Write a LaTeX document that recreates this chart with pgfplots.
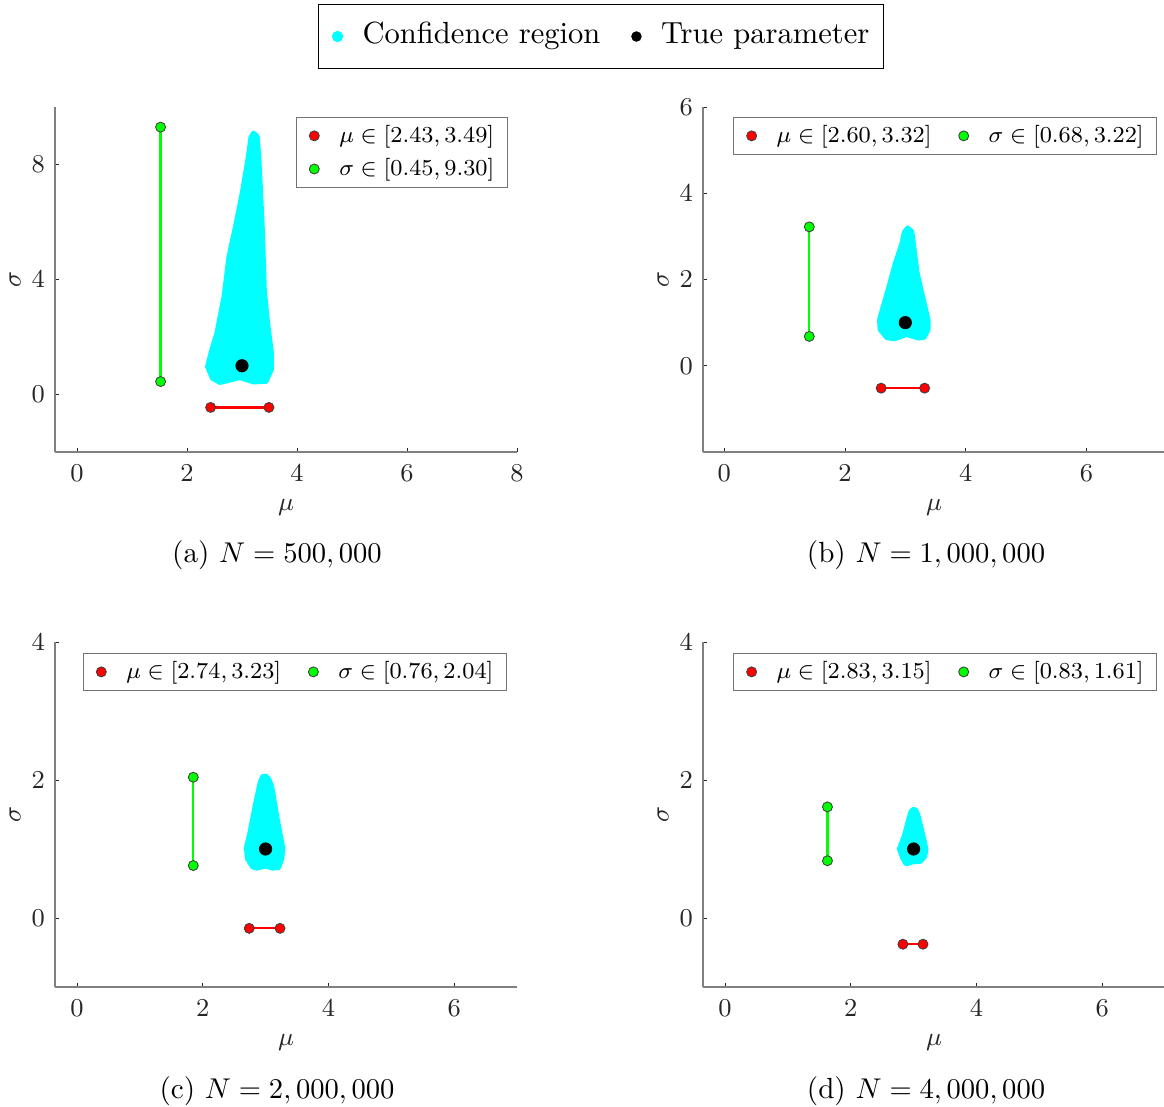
\documentclass[border=0pt]{standalone}
\usepackage{pgfplots}
\pgfplotsset{compat=1.18}
\definecolor{cy}{RGB}{0,255,255}
\definecolor{gr}{RGB}{0,255,0}
\definecolor{rd}{RGB}{255,0,0}
\definecolor{axgray}{RGB}{128,128,128}
\definecolor{txt}{RGB}{38,38,38}
\pgfplotsset{
  panel/.style={
    scale only axis, width=161.7pt, height=120.75pt, anchor=south west,
    axis x line*=bottom, axis y line*=left,
    axis line style={-, draw=axgray, line width=0.45pt},
    tick align=inside, major tick length=1.4pt,
    tick style={draw=txt, line width=0.3pt},
    xticklabel style={font=\fontsize{9.3}{11}\selectfont, text=txt, yshift=-1.0pt},
    yticklabel style={font=\fontsize{9.3}{11}\selectfont, text=txt},
    xlabel style={font=\fontsize{9.3}{11}\selectfont, text=txt, at={(axis description cs:0.5,-0.162)}, anchor=center},
    ylabel style={font=\fontsize{9.3}{11}\selectfont, text=txt, at={(axis description cs:-0.0866,0.5)}, anchor=center},
    xlabel={$\mu$}, ylabel={$\sigma$},
    enlargelimits=false,
    legend image code/.code={\draw[##1] plot coordinates {(0pt,0pt)};},
    legend style={draw=black!55, line width=0.4pt, fill=white, anchor=north east,
      inner xsep=4.5pt, inner ysep=1.8pt, row sep=2.4pt,
      font=\fontsize{8.5}{10}\selectfont,
      nodes={font=\fontsize{8.5}{10}\selectfont, inner sep=0pt, text height=0.7em, text depth=0.22em},
      /tikz/every odd column/.style={column sep=7pt},
      /tikz/every even column/.style={column sep=9.5pt}},
  },
  region/.style={forget plot, fill=cy, draw=cy, line width=1.6pt, line join=round},
  redseg/.style={forget plot, rd, line width=0.8pt, mark=*, mark size=1.75pt,
    mark options={fill=rd, draw=black!75, line width=0.3pt}},
  greenseg/.style={forget plot, gr, line width=0.8pt, mark=*, mark size=1.75pt,
    mark options={fill=gr, draw=black!75, line width=0.3pt}},
  truep/.style={forget plot, only marks, mark=*, mark size=2.1pt, black},
  redleg/.style={only marks, mark=*, mark size=1.75pt, mark options={fill=rd, draw=black!75, line width=0.3pt}},
  greenleg/.style={only marks, mark=*, mark size=1.75pt, mark options={fill=gr, draw=black!75, line width=0.3pt}},
}
\begin{document}
\begin{tikzpicture}
\useasboundingbox (0pt,0pt) rectangle (407.4pt,387.45pt);

% ---------- (a)
\begin{axis}[panel, at={(19.25pt,229.25pt)},
  xmin=-0.4, xmax=8, ymin=-2, ymax=10,
  xtick={0,2,4,6,8}, ytick={0,4,8},
  legend style={at={(0.980,0.971)}}]
\addplot[region] coordinates {(3.16,8.95) (3.21,9.10) (3.28,8.98) (3.31,8.25) (3.37,5.94) (3.41,3.63) (3.47,2.47) (3.54,1.43) (3.54,0.88) (3.44,0.45) (3.21,0.43) (2.96,0.58) (2.60,0.41) (2.46,0.56) (2.37,0.97) (2.43,1.43) (2.54,2.13) (2.67,3.40) (2.76,4.79) (2.89,5.94) (3.01,7.10) (3.11,8.25)} -- cycle;
\addplot[greenseg] coordinates {(1.52,0.45) (1.52,9.30)};
\addplot[redseg] coordinates {(2.43,-0.45) (3.49,-0.45)};
\addplot[truep] coordinates {(3,1)};
\addlegendimage{redleg}
\addlegendentry{$\mu \in [2.43, 3.49]$}
\addlegendimage{greenleg}
\addlegendentry{$\sigma \in [0.45, 9.30]$}
\end{axis}

% ---------- (b)
\begin{axis}[panel, at={(246.05pt,229.25pt)},
  xmin=-0.35, xmax=7.3, ymin=-2, ymax=6,
  xtick={0,2,4,6}, ytick={0,2,4,6},
  legend columns=2,
  legend style={at={(0.983,0.971)}}]
\addplot[region] coordinates {(2.98,3.10) (3.04,3.20) (3.11,3.11) (3.13,2.91) (3.20,2.14) (3.29,1.60) (3.38,1.06) (3.38,0.84) (3.31,0.65) (3.21,0.64) (3.02,0.72) (2.82,0.62) (2.69,0.65) (2.58,0.84) (2.57,1.06) (2.63,1.37) (2.71,1.75) (2.83,2.37) (2.94,2.83)} -- cycle;
\addplot[greenseg] coordinates {(1.41,0.68) (1.41,3.22)};
\addplot[redseg] coordinates {(2.60,-0.52) (3.32,-0.52)};
\addplot[truep] coordinates {(3,1)};
\addlegendimage{redleg}
\addlegendentry{$\mu \in [2.60, 3.32]$}
\addlegendimage{greenleg}
\addlegendentry{$\sigma \in [0.68, 3.22]$}
\end{axis}

% ---------- (c)
\begin{axis}[panel, at={(19.25pt,42pt)},
  xmin=-0.35, xmax=7, ymin=-1, ymax=4,
  xtick={0,2,4,6}, ytick={0,2,4},
  legend columns=2,
  legend style={at={(0.978,0.968)}}]
\addplot[region] coordinates {(2.95,2.05) (3.00,2.06) (3.05,2.02) (3.10,1.91) (3.19,1.43) (3.28,1.00) (3.26,0.86) (3.21,0.73) (3.11,0.72) (3.00,0.75) (2.86,0.72) (2.79,0.74) (2.71,0.86) (2.69,1.02) (2.75,1.24) (2.83,1.62) (2.91,1.96)} -- cycle;
\addplot[greenseg] coordinates {(1.85,0.76) (1.85,2.04)};
\addplot[redseg] coordinates {(2.74,-0.15) (3.23,-0.15)};
\addplot[truep] coordinates {(3,1)};
\addlegendimage{redleg}
\addlegendentry{$\mu \in [2.74, 3.23]$}
\addlegendimage{greenleg}
\addlegendentry{$\sigma \in [0.76, 2.04]$}
\end{axis}

% ---------- (d)
\begin{axis}[panel, at={(246.05pt,42pt)},
  xmin=-0.35, xmax=7, ymin=-1, ymax=4,
  xtick={0,2,4,6}, ytick={0,2,4},
  legend columns=2,
  legend style={at={(0.983,0.968)}}]
\addplot[region] coordinates {(2.96,1.55) (3.00,1.58) (3.04,1.56) (3.07,1.50) (3.14,1.24) (3.20,1.00) (3.18,0.89) (3.11,0.82) (2.98,0.81) (2.88,0.78) (2.83,0.86) (2.77,1.00) (2.85,1.19) (2.92,1.43)} -- cycle;
\addplot[greenseg] coordinates {(1.63,0.83) (1.63,1.61)};
\addplot[redseg] coordinates {(2.83,-0.38) (3.15,-0.38)};
\addplot[truep] coordinates {(3,1)};
\addlegendimage{redleg}
\addlegendentry{$\mu \in [2.83, 3.15]$}
\addlegendimage{greenleg}
\addlegendentry{$\sigma \in [0.83, 1.61]$}
\end{axis}

% ---------- shared legend
\begin{axis}[at={(0pt,0pt)}, anchor=south west, scale only axis,
  width=407.4pt, height=387.45pt, hide axis,
  xmin=0, xmax=1, ymin=0, ymax=1,
  legend columns=2,
  legend image code/.code={\draw[#1] plot coordinates {(0pt,0pt)};},
  legend style={at={(0.5163,0.967)}, anchor=center, draw=black, line width=0.45pt,
    fill=white, inner xsep=5pt, inner ysep=6.7pt,
    font=\fontsize{10.7}{12.5}\selectfont,
    nodes={font=\fontsize{10.7}{12.5}\selectfont, inner sep=0pt, text height=0.7em, text depth=0.22em},
    /tikz/every odd column/.style={column sep=7pt},
    /tikz/every even column/.style={column sep=11pt}}]
\addlegendimage{only marks, mark=*, mark size=1.75pt, cy}
\addlegendentry{Confidence region}
\addlegendimage{only marks, mark=*, mark size=1.6pt, black}
\addlegendentry{True parameter}
\end{axis}

% ---------- captions
\node[font=\fontsize{10.2}{12}\selectfont, anchor=center] at (96.95pt,193.2pt) {(a) $N=500,000$};
\node[font=\fontsize{10.2}{12}\selectfont, anchor=center] at (324.1pt,193.2pt) {(b) $N=1,000,000$};
\node[font=\fontsize{10.2}{12}\selectfont, anchor=center] at (96.95pt,5.6pt) {(c) $N=2,000,000$};
\node[font=\fontsize{10.2}{12}\selectfont, anchor=center] at (324.1pt,5.6pt) {(d) $N=4,000,000$};
\end{tikzpicture}
\end{document}
